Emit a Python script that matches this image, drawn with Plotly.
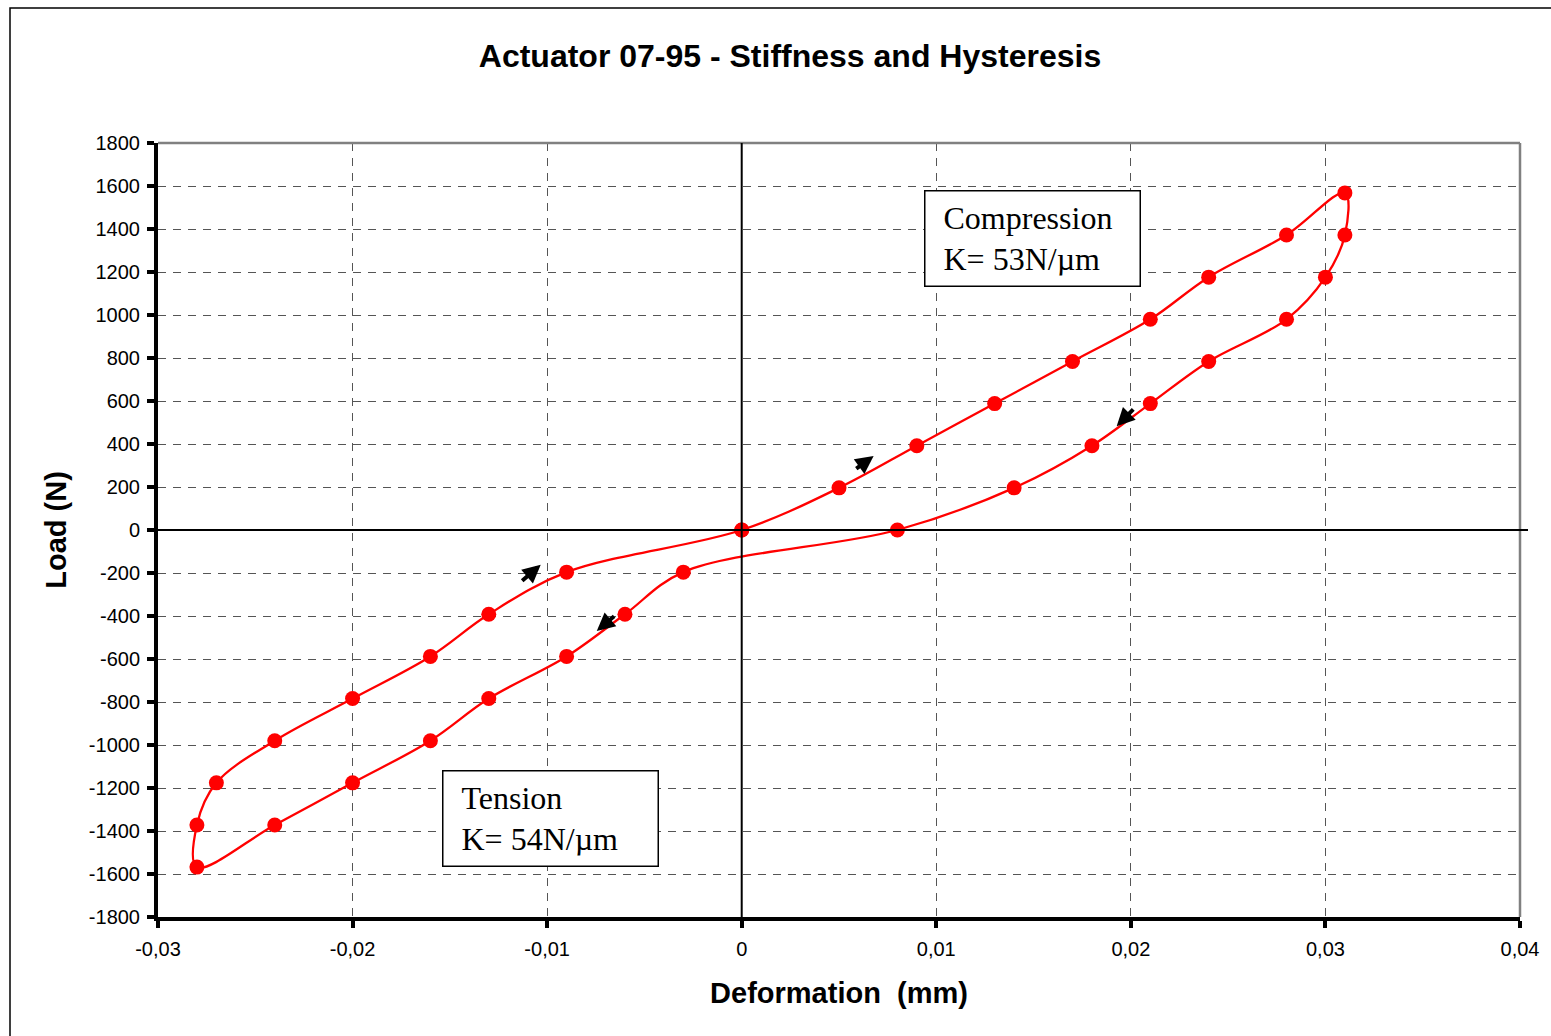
import plotly.graph_objects as go

# Hysteresis loop (deformation in mm, load in N), traversed in order
deformation = [0, 0.005, 0.009, 0.013, 0.017, 0.021, 0.024, 0.028, 0.031,
               0.031, 0.030, 0.028, 0.024, 0.021, 0.018, 0.014, 0.008,
               -0.003, -0.006, -0.009, -0.013, -0.016, -0.020, -0.024, -0.028,
               -0.028, -0.027, -0.024, -0.020, -0.016, -0.013, -0.009, 0]
load = [0, 196, 392, 588, 784, 980, 1176, 1372, 1568,
        1372, 1176, 980, 784, 588, 392, 196, 0,
        -196, -392, -588, -784, -980, -1176, -1372, -1568,
        -1372, -1176, -980, -784, -588, -392, -196, 0]

x_ticks = [-0.03, -0.02, -0.01, 0, 0.01, 0.02, 0.03, 0.04]
x_tick_labels = ["-0,03", "-0,02", "-0,01", "0", "0,01", "0,02", "0,03", "0,04"]
y_ticks = list(range(-1800, 1801, 200))
y_tick_labels = [str(v) for v in y_ticks]

# direction arrows: (tail_x, tail_y, head_x, head_y)
arrows = [
    (0.00581, 280, 0.00678, 344),
    (0.02020, 568, 0.01927, 483),
    (-0.01136, -242, -0.01033, -162),
    (-0.00648, -395, -0.00745, -470),
]

W, H = 1551, 1036
L, R, T, B = 158, 31, 143, 119
pw, ph = W - L - R, H - T - B

def px(xp):
    return (xp - L) / pw

def py(yp):
    return (H - B - yp) / ph

fig = go.Figure()
fig.add_trace(go.Scatter(
    x=deformation, y=load, mode="lines+markers",
    line=dict(color="#ff0000", width=2.3, shape="spline", smoothing=1.0),
    marker=dict(color="#ff0000", size=15),
    showlegend=False, hoverinfo="skip"))

annotations = []
for tx, ty, hx, hy in arrows:
    annotations.append(dict(x=hx, y=hy, ax=tx, ay=ty, xref="x", yref="y",
                            axref="x", ayref="y", text="", showarrow=True,
                            arrowhead=2, arrowsize=0.9, arrowwidth=4,
                            arrowcolor="black", standoff=0, startstandoff=0))

box_font = dict(family="Liberation Serif, Times New Roman, serif", size=32, color="black")
for label, bx, by in [("Compression<br>K= 53N/µm", 924, 190), ("Tension<br>K= 54N/µm", 442, 770)]:
    annotations.append(dict(text=label.replace("<br>", "<br>\u00a0").join(["\u00a0", ""]),
                            xref="paper", yref="paper",
                            x=px(bx), y=py(by), xanchor="left", yanchor="top",
                            showarrow=False, align="left", font=box_font,
                            bordercolor="black", borderwidth=1.5, borderpad=10,
                            bgcolor="white", width=194, height=74))

shapes = [
    # outer chart frame
    dict(type="rect", xref="paper", yref="paper", x0=px(10), y0=py(1100), x1=px(1600), y1=py(8),
         line=dict(color="black", width=1.5), layer="below"),
    # top / right plot border (grey)
    dict(type="line", xref="paper", yref="paper", x0=0, x1=1, y0=1, y1=1,
         line=dict(color="#808080", width=2.5)),
    dict(type="line", xref="paper", yref="paper", x0=1, x1=1, y0=0, y1=1,
         line=dict(color="#808080", width=2.5)),
    # zero lines
    dict(type="line", xref="x", yref="paper", x0=0, x1=0, y0=0, y1=1,
         line=dict(color="black", width=2)),
    dict(type="line", xref="paper", yref="y", x0=0, x1=px(1528), y0=0, y1=0,
         line=dict(color="black", width=2)),
]

fig.update_layout(
    width=W, height=H,
    margin=dict(l=L, r=R, t=T, b=B),
    paper_bgcolor="white", plot_bgcolor="white",
    font=dict(family="Liberation Sans, Arial, sans-serif", color="black"),
    title=dict(text="<b>Actuator 07-95 - Stiffness and Hysteresis</b>",
               x=790 / W, y=1 - 56 / H, xanchor="center", yanchor="middle",
               font=dict(size=32, color="black")),
    xaxis=dict(range=[-0.03, 0.04], tickvals=x_ticks, ticktext=x_tick_labels,
               showgrid=True, gridcolor="#555555", griddash="8px,7px", gridwidth=1,
               zeroline=False, showline=True, linecolor="black", linewidth=4,
               ticks="outside", ticklen=7, tickwidth=4, tickcolor="black",
               ticklabelstandoff=4,
               tickfont=dict(size=20), fixedrange=True,
               title=dict(text="<b>Deformation  (mm)</b>", font=dict(size=29), standoff=25)),
    yaxis=dict(range=[-1800, 1800], tickvals=y_ticks, ticktext=y_tick_labels,
               showgrid=True, gridcolor="#555555", griddash="8px,7px", gridwidth=1,
               zeroline=False, showline=True, linecolor="black", linewidth=4,
               ticks="outside", ticklen=7, tickwidth=4, tickcolor="black",
               ticklabelstandoff=3,
               tickfont=dict(size=20), fixedrange=True,
               title=dict(text="<b>Load (N)</b>", font=dict(size=29), standoff=15)),
    annotations=annotations,
    shapes=shapes,
)

fig.write_html("out.html")
